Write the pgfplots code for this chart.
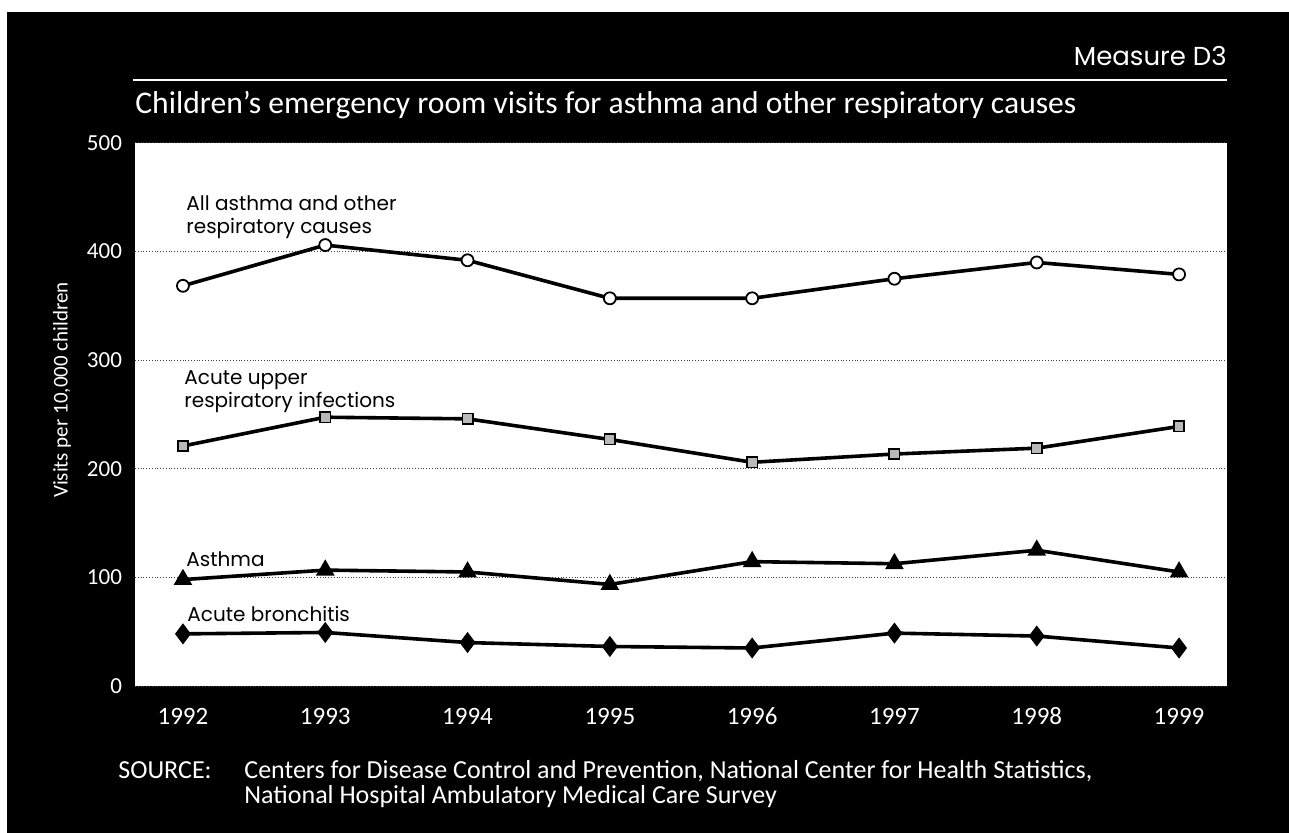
\documentclass[border=0pt]{standalone}
\usepackage{fontspec}
\usepackage{pgfplots}
\pgfplotsset{compat=1.18}
\setmainfont{Carlito}[Numbers=Lining]
\newfontfamily\geo{Poppins}
\begin{document}
\begin{tikzpicture}
\begin{scope}[x=0.5pt,y=-0.5pt]
\path[use as bounding box] (0,0) rectangle (1289,833);
\fill[white] (0,0) rectangle (1289,833);
\fill[black] (7,12) rectangle (1289,833);
\draw[white, line width=1.1pt] (133,80) -- (1227,80);
\node[anchor=base east, white, font=\geo\fontsize{13}{15}\selectfont, inner sep=0] at (1227,66) {Measure D3};
\node[anchor=base west, white, font=\fontsize{15.8}{19}\selectfont, inner sep=0] at (135,114) {Children's emergency room visits for asthma and other respiratory causes};
\node[rotate=90, white, font=\fontsize{10.5}{12}\selectfont, inner sep=0] at (62,390) {Visits per 10,000 children};
\node[anchor=base west, white, font=\fontsize{13}{15}\selectfont, inner sep=0] at (118,778) {SOURCE:};
\node[anchor=base west, white, font=\fontsize{13}{15}\selectfont, inner sep=0] at (244,778) {Centers for Disease Control and Prevention, National Center for Health Statistics,};
\node[anchor=base west, white, font=\fontsize{13}{15}\selectfont, inner sep=0] at (244,803) {National Hospital Ambulatory Medical Care Survey};
\end{scope}
\begin{axis}[
  at={(67.5pt,-343pt)}, anchor=south west,
  scale only axis, width=546pt, height=271.5pt,
  xmin=1991.663, xmax=1999.337, ymin=0, ymax=500,
  axis background/.style={fill=white},
  axis line style={draw=none},
  major tick length=0pt,
  xtick={1992,1993,1994,1995,1996,1997,1998,1999},
  xticklabels={1992,1993,1994,1995,1996,1997,1998,1999},
  ytick={0,100,200,300,400,500},
  ymajorgrids,
  grid style={densely dotted, black!75, line width=0.5pt},
  /pgf/number format/assume math mode=true,
  y tick label style={font=\fontsize{11.5}{13}\selectfont, text=white, xshift=-3pt},
  x tick label style={font=\fontsize{12.5}{14}\selectfont, text=white, text height=8.5pt, text depth=0pt, yshift=-7pt},
  clip=false,
]
\addplot[black, line width=1.8pt, mark=*, mark size=3pt, mark options={fill=white, draw=black, line width=0.9pt}] coordinates {
(1992,368.5) (1993,406) (1994,392) (1995,357) (1996,357) (1997,375) (1998,390) (1999,379)};
\addplot[black, line width=1.8pt, mark=square*, mark size=2.6pt, mark options={fill=gray!55, draw=black, line width=0.8pt}] coordinates {
(1992,221) (1993,247.5) (1994,246) (1995,227) (1996,206) (1997,213.6) (1998,219) (1999,239)};
\addplot[black, line width=1.8pt, mark=triangle*, mark size=3.6pt, mark options={fill=black, draw=black}] coordinates {
(1992,98) (1993,106.7) (1994,105) (1995,93.5) (1996,114.5) (1997,112.6) (1998,125) (1999,105)};
\addplot[black, line width=1.8pt, mark=diamond*, mark size=3.8pt, mark options={fill=black, draw=black}] coordinates {
(1992,48) (1993,49.3) (1994,40) (1995,36.4) (1996,35) (1997,48.7) (1998,46) (1999,35)};
\end{axis}
\begin{scope}[x=0.5pt,y=-0.5pt]
\tikzset{lab/.style={anchor=base west, black, font=\geo\fontsize{10}{12}\selectfont, inner sep=0}}
\node[lab] at (186,210.7) {All asthma and other};
\node[lab] at (186,234) {respiratory causes};
\node[lab] at (184,385) {Acute upper};
\node[lab] at (184,408) {respiratory infections};
\node[lab] at (186,566) {Asthma};
\node[lab] at (187,621.7) {Acute bronchitis};
\end{scope}
\end{tikzpicture}
\end{document}
